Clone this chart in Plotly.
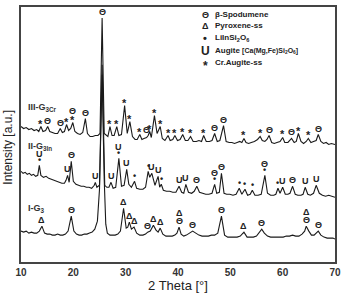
import numpy as np
import plotly.graph_objects as go

# ---------------- data ----------------
# Curve III-G3Cr (stacked intensity, a.u.)
two_theta_III = [10.0, 10.5, 11.0, 11.5, 12.0, 12.5, 13.0, 13.4, 13.8, 14.2, 14.7, 15.1, 15.5, 16.0, 16.5, 17.0, 17.5, 17.9, 18.3, 18.7,
                 19.1, 19.5, 19.9, 20.3, 20.8, 21.3, 21.8, 22.3, 22.7, 23.2, 23.7, 24.2, 24.7, 25.1, 25.5, 25.9, 26.3, 26.6, 27.0, 27.4,
                 27.8, 28.3, 28.7, 29.2, 29.8, 30.3, 30.8, 31.3, 31.8, 32.2, 32.7, 33.1, 33.5, 34.0, 34.3, 34.6, 34.9, 35.5, 36.0, 36.6,
                 37.0, 37.5, 38.1, 38.5, 39.0, 39.4, 39.9, 40.4, 40.9, 41.4, 41.9, 42.4, 42.9, 43.5, 44.0, 44.5, 44.9, 45.4, 46.0, 46.5,
                 47.0, 47.5, 48.0, 48.7, 49.2, 49.8, 50.3, 50.8, 51.3, 51.8, 52.2, 52.6, 53.0, 53.5, 54.0, 54.6, 55.2, 55.7, 56.1, 56.6,
                 57.0, 57.4, 57.9, 58.4, 58.9, 59.5, 60.0, 60.4, 61.0, 61.7, 62.2, 62.6, 63.0, 63.5, 64.0, 64.5, 64.9, 65.4, 65.9, 66.4,
                 66.8, 67.3, 67.8, 68.3, 68.8, 69.3, 70.0]
intensity_III = [136, 134, 135, 133, 134, 132, 133, 131, 136, 131, 132, 136, 131, 130, 129, 129, 134, 130, 131, 138,
                 132, 134, 140, 131, 129, 128, 130, 144, 129, 126, 126, 127, 127, 129, 245, 129, 127, 126, 136, 127,
                 127, 136, 127, 128, 157, 129, 141, 126, 123, 123, 128, 123, 124, 125, 127, 131, 125, 147, 129, 136,
                 124, 122, 127, 122, 123, 127, 122, 123, 128, 122, 122, 126, 121, 121, 122, 121, 127, 121, 121, 122,
                 129, 121, 122, 137, 121, 120, 120, 119, 120, 121, 120, 124, 120, 119, 120, 121, 123, 126, 122, 121,
                 123, 127, 120, 119, 120, 121, 125, 120, 120, 124, 120, 121, 129, 121, 119, 121, 124, 120, 121, 122,
                 128, 121, 119, 120, 118, 119, 118]

# Curve II-G3In
two_theta_II = [10.0, 10.4, 10.8, 11.2, 11.6, 12.0, 12.4, 12.8, 13.2, 13.5, 13.8, 14.3, 14.8, 15.3, 15.8, 16.3, 16.8, 17.3, 17.8, 18.3,
                18.6, 18.9, 19.2, 19.6, 20.0, 20.5, 21.0, 21.5, 22.0, 22.5, 23.0, 23.5, 24.0, 24.2, 24.5, 25.0, 25.5, 26.0, 26.4, 26.8,
                27.2, 27.6, 28.1, 28.7, 29.2, 29.7, 30.2, 30.6, 31.1, 31.7, 32.1, 32.7, 33.3, 33.8, 34.3, 34.6, 35.0, 35.6, 36.2, 36.5,
                36.8, 37.2, 37.8, 38.4, 39.0, 39.6, 40.2, 40.7, 41.1, 41.5, 42.0, 42.6, 43.1, 43.6, 44.1, 44.7, 45.3, 45.9, 46.5, 47.0,
                47.4, 47.9, 48.3, 48.8, 49.3, 49.9, 50.5, 51.1, 51.7, 52.2, 52.8, 53.3, 53.8, 54.2, 54.7, 55.3, 55.9, 56.6, 57.1, 57.7,
                58.3, 58.7, 59.1, 59.5, 60.0, 60.5, 61.0, 61.4, 61.9, 62.4, 62.9, 63.5, 63.9, 64.3, 64.8, 65.3, 65.9, 66.4, 67.0, 67.6,
                68.2, 68.8, 69.4, 70.0]
intensity_II = [91, 89, 90, 88, 89, 87, 88, 86, 87, 97, 87, 85, 86, 84, 83, 82, 81, 80, 79, 79,
                82, 87, 80, 101, 81, 78, 77, 76, 76, 75, 75, 74, 77, 80, 75, 77, 198, 77, 75, 75,
                80, 74, 75, 104, 76, 77, 93, 78, 75, 81, 74, 73, 73, 75, 91, 85, 89, 77, 86, 75,
                78, 72, 71, 71, 70, 70, 76, 70, 69, 78, 70, 69, 71, 76, 70, 69, 68, 68, 69, 78,
                69, 70, 89, 69, 68, 68, 67, 68, 74, 68, 73, 67, 68, 72, 67, 67, 68, 87, 69, 67,
                67, 68, 74, 69, 75, 68, 68, 69, 76, 68, 67, 67, 68, 75, 68, 67, 69, 77, 69, 67,
                66, 67, 66, 65]

# Curve I-G3
two_theta_I = [10.0, 10.5, 11.0, 11.5, 12.0, 12.5, 13.0, 13.5, 14.0, 14.5, 15.0, 15.5, 16.0, 16.5, 17.0, 17.5, 18.0, 18.5, 19.0, 19.6,
               20.1, 20.6, 21.1, 21.6, 22.1, 22.6, 23.1, 23.6, 24.1, 24.6, 25.0, 25.5, 25.9, 26.2, 26.5, 27.0, 27.5, 28.0, 28.5, 29.0,
               29.6, 30.1, 30.4, 30.7, 31.1, 31.6, 32.1, 32.7, 33.3, 33.8, 34.2, 34.7, 35.3, 35.8, 36.2, 36.6, 37.1, 37.7, 38.3, 38.9,
               39.4, 39.8, 40.2, 40.6, 41.1, 41.6, 42.2, 42.8, 43.4, 44.0, 44.6, 45.2, 45.8, 46.4, 47.0, 47.6, 48.3, 48.9, 49.5, 50.1,
               50.7, 51.3, 51.9, 52.6, 53.2, 53.8, 54.4, 55.0, 55.5, 56.0, 56.5, 57.1, 57.7, 58.3, 58.9, 59.5, 60.1, 60.7, 61.3, 61.9,
               62.5, 63.1, 63.7, 64.2, 64.5, 65.0, 65.5, 66.0, 66.5, 66.8, 67.3, 67.9, 68.5, 69.1, 69.6, 70.0]
intensity_I = [31, 30, 31, 29, 30, 29, 29, 31, 36, 29, 28, 28, 27, 27, 28, 27, 27, 28, 31, 46,
               31, 28, 27, 27, 28, 28, 29, 30, 33, 41, 73, 188, 83, 38, 29, 27, 27, 27, 28, 31,
               54, 34, 35, 40, 33, 35, 29, 27, 27, 28, 30, 31, 37, 32, 30, 34, 28, 26, 26, 26,
               27, 29, 35, 28, 26, 27, 29, 31, 29, 27, 26, 26, 26, 27, 27, 29, 46, 27, 25, 25,
               25, 25, 26, 30, 25, 25, 25, 26, 29, 33, 29, 26, 25, 25, 25, 25, 25, 26, 26, 27,
               26, 26, 28, 31, 36, 31, 27, 27, 29, 31, 27, 25, 24, 24, 24, 23]

# Phase markers: (2theta, symbols from bottom to top)
markers_III = [(13.8, "*"), (15.1, "Θ"), (17.5, "Θ"), (18.7, "*"), (19.9, "*|Θ"), (22.3, "Θ"), (25.5, "Θ"),
               (27.0, "*"), (28.3, "*"), (29.8, "*"), (30.8, "*"), (32.7, "*"), (34.0, "Θ"), (34.6, "*"), (35.5, "*"),
               (36.6, "*"), (38.1, "*"), (39.4, "*"), (40.9, "*"), (42.4, "*"), (44.9, "*"), (47.0, "Θ"), (48.7, "Θ"),
               (52.6, "*"), (55.7, "*"), (57.4, "Θ"), (60.0, "*"), (61.7, "Θ"), (63.0, "*"), (64.9, "*"), (66.8, "Θ")]
markers_II = [(13.5, "•|U"), (18.9, "U"), (19.6, "Θ"), (24.2, "U"), (27.2, "U"), (28.7, "•|U"), (30.2, "U"),
              (31.7, "•"), (34.3, "•"), (35.0, "U"), (36.2, "U"), (36.8, "•"), (40.2, "U"), (41.5, "U"), (43.6, "Θ"),
              (47.0, "•|Θ"), (48.3, "Θ"), (51.7, "•"), (52.8, "•"), (54.2, "•"), (56.6, "•|Θ"), (59.1, "•"),
              (60.0, "U"), (61.9, "Θ"), (64.3, "U"), (66.4, "U")]
markers_I = [(14.0, "Δ"), (19.6, "Θ"), (29.6, "Δ"), (30.7, "Δ"), (31.6, "Δ"), (34.2, "Θ"), (35.3, "Δ"), (36.6, "Δ"),
             (40.2, "Θ|Δ"), (42.8, "Θ"), (48.3, "Θ"), (52.6, "Δ"), (56.0, "Θ"), (64.5, "Θ|Δ"), (66.8, "Θ")]

series_labels = ["III-G<sub>3Cr</sub>", "II-G<sub>3In</sub>", "I-G<sub>3</sub>"]
legend_symbols = ["Θ", "Δ", "•", "U", "*"]
legend_texts = ["β-Spodumene", "Pyroxene-ss", "LiInSi<sub>2</sub>O<sub>6</sub>",
                "Augite <span style='font-size:7px'>[Ca(Mg,Fe)Si<sub>2</sub>O<sub>6</sub>]</span>", "Cr.Augite-ss"]
x_ticks = [10, 20, 30, 40, 50, 60, 70]

# ---------------- figure ----------------
W, H = 346, 294
ML, MR, MT, MB = 21, 5, 7, 31
PW, PH = W - ML - MR, H - MT - MB

def px_x(p):
    return (p - ML) / PW

def px_y(p):
    return 1 - (p - MT) / PH

FONT = "Liberation Sans, Arial, sans-serif"
# symbol styling: font size, extra vertical shift (px), height used when stacking
SYM_STYLE = {"Θ": (9, 0, 8), "Δ": (9, 0, 8), "•": (9, -1, 5), "U": (9, 0, 8), "*": (11, -4, 6)}

fig = go.Figure()
curves = [(two_theta_III, intensity_III, markers_III),
          (two_theta_II, intensity_II, markers_II),
          (two_theta_I, intensity_I, markers_I)]
annotations = []
for xs, ys, marks in curves:
    fig.add_trace(go.Scatter(x=xs, y=ys, mode="lines", line=dict(color="#1a1a1a", width=1.1),
                             showlegend=False, hoverinfo="skip"))
    xa, ya = np.array(xs), np.array(ys)
    for pos, syms in marks:
        win = (xa >= pos - 0.3) & (xa <= pos + 0.3)
        tip = ya[win].max() if win.any() else np.interp(pos, xa, ya)
        shift = 0
        for sym in syms.split("|"):
            fs, dy, hgt = SYM_STYLE[sym]
            annotations.append(dict(x=pos, y=tip, xref="x", yref="y", text="<b>" + sym + "</b>",
                                    showarrow=False, yanchor="bottom", yshift=shift + dy,
                                    font=dict(family=FONT, size=fs, color="#222"),
                                    borderpad=0))
            shift += hgt

# series labels
label_pos = [(26, 108), (26, 147), (26, 209)]
for lab, (lx, ly) in zip(series_labels, label_pos):
    annotations.append(dict(x=px_x(lx), y=px_y(ly), xref="paper", yref="paper", text="<b>" + lab + "</b>",
                            showarrow=False, xanchor="left", yanchor="middle",
                            font=dict(family=FONT, size=9, color="#333")))

# phase legend
leg_rows = [15, 26, 38, 51, 63]
for sym, txt, ry in zip(legend_symbols, legend_texts, leg_rows):
    ssize = {"U": 12, "•": 11, "*": 12}.get(sym, 9)
    annotations.append(dict(x=px_x(209), y=px_y(ry + (3 if sym == "*" else 0)), xref="paper", yref="paper",
                            text="<b>" + sym + "</b>",
                            showarrow=False, xanchor="center", yanchor="middle",
                            font=dict(family=FONT, size=ssize, color="#222")))
    annotations.append(dict(x=px_x(217), y=px_y(ry), xref="paper", yref="paper", text="<b>" + txt + "</b>",
                            showarrow=False, xanchor="left", yanchor="middle",
                            font=dict(family=FONT, size=8, color="#222")))

# y axis title
annotations.append(dict(x=px_x(8), y=px_y(148), xref="paper", yref="paper", text="Intensity [a.u.]",
                        showarrow=False, textangle=-90, xanchor="center", yanchor="middle",
                        font=dict(family=FONT, size=12, color="#222")))

fig.update_layout(
    width=W, height=H, margin=dict(l=ML, r=MR, t=MT, b=MB),
    paper_bgcolor="white", plot_bgcolor="white",
    annotations=annotations,
    xaxis=dict(range=[10, 70], tickvals=x_ticks, ticktext=["<b>%d</b>" % t for t in x_ticks],
               showgrid=False, zeroline=False, showline=True, mirror=True, linecolor="#444", linewidth=1.5,
               ticks="", tickfont=dict(family=FONT, size=10, color="#333"),
               title=dict(text="2 Theta [°]", font=dict(family=FONT, size=13, color="#222"), standoff=2)),
    yaxis=dict(range=[0, 256], showticklabels=False, showgrid=False, zeroline=False, showline=True,
               mirror=True, linecolor="#444", linewidth=1.5, ticks=""),
)
fig.write_html("out.html")
